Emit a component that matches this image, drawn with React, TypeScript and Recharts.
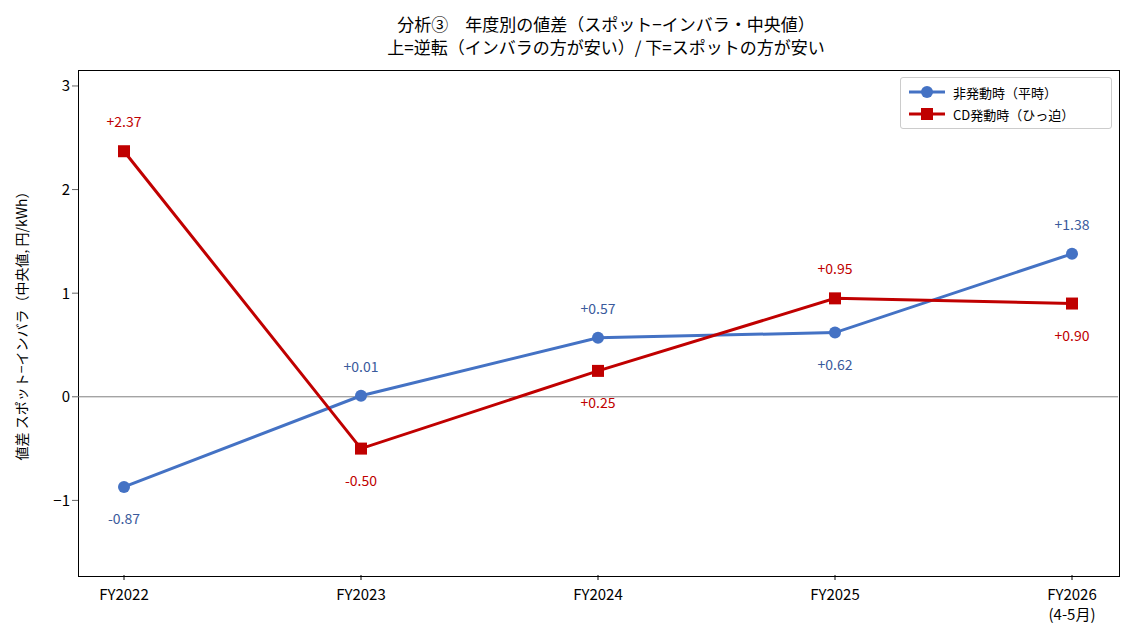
import React from "react";
import { LineChart, Line, XAxis, YAxis, ReferenceLine } from "recharts";

const categories = ["FY2022", "FY2023", "FY2024", "FY2025", "FY2026\n(4-5月)"];
const normalValues = [-0.87, 0.01, 0.57, 0.62, 1.38];
const cdValues = [2.37, -0.5, 0.25, 0.95, 0.9];
const normalLabelAbove = [false, true, true, false, true];
const cdLabelAbove = [true, false, false, true, false];
const yTicks = [-1, 0, 1, 2, 3];

const data = categories.map((c, i) => ({ cat: c, normal: normalValues[i], cd: cdValues[i] }));
const FONT = "'Noto Sans CJK JP', 'DejaVu Sans', sans-serif";
const BLUE = "#4472c4";
const RED = "#c00000";

const fmt = (v: number) => (v > 0 ? "+" : "") + v.toFixed(2);

const mkLabel = (above: boolean[], color: string) => (p: any) => {
  const { x, y, value, index } = p;
  const up = above[index];
  return (
    <text x={x} y={up ? y - 24 : y + 37} textAnchor="middle" fill={color} fontSize={14} fontFamily={FONT}>
      {fmt(value)}
    </text>
  );
};

const XTick = (p: any) => {
  const lines = String(p.payload.value).split("\n");
  return (
    <g>
      <line x1={p.x} x2={p.x} y1={p.y - 8} y2={p.y - 3} stroke="#000" />
      <text x={p.x} y={p.y + 17} textAnchor="middle" fontSize={15} fontFamily={FONT} fill="#000">
        {lines.map((l, i) => (
          <tspan key={i} x={p.x} dy={i === 0 ? 0 : 20}>{l}</tspan>
        ))}
      </text>
    </g>
  );
};

const Square = (p: any) => (
  <rect x={p.cx - 6} y={p.cy - 6} width={12} height={12} fill={RED} />
);

export default function App() {
  return (
    <div style={{ position: "relative", width: 1120, height: 631, fontFamily: FONT }}>
      <div style={{ position: "absolute", left: 0, top: 4, width: 1196, textAlign: "center", fontSize: 17, lineHeight: "23px", color: "#000" }}>
        分析③　年度別の値差（スポット−インバラ・中央値）<br />上=逆転（インバラの方が安い）/ 下=スポットの方が安い
      </div>
      <div style={{ position: "absolute", left: 70, top: 62, width: 1040, height: 505, border: "1px solid #000", pointerEvents: "none" }} />
      <div style={{ position: "absolute", left: 70 + 1040 - 218, top: 69, width: 212, border: "1px solid #ccc", borderRadius: 3, background: "#fff", fontSize: 13, padding: "3px 6px", boxSizing: "border-box", zIndex: 2 }}>
        <div style={{ display: "flex", alignItems: "center", height: 22 }}>
          <svg width={40} height={14}><line x1={2} x2={38} y1={7} y2={7} stroke={BLUE} strokeWidth={3} /><circle cx={20} cy={7} r={6} fill={BLUE} /></svg>
          <span style={{ marginLeft: 6 }}>非発動時（平時）</span>
        </div>
        <div style={{ display: "flex", alignItems: "center", height: 22 }}>
          <svg width={40} height={14}><line x1={2} x2={38} y1={7} y2={7} stroke={RED} strokeWidth={3} /><rect x={14} y={1} width={12} height={12} fill={RED} /></svg>
          <span style={{ marginLeft: 6 }}>CD発動時（ひっ迫）</span>
        </div>
      </div>
      <LineChart width={1120} height={631} data={data} margin={{ top: 62, right: 10, bottom: 34, left: 30 }}>
        <XAxis dataKey="cat" padding={{ left: 46, right: 46 }} tick={<XTick />} tickLine={false} axisLine={false} height={30} interval={0} />
        <YAxis
          domain={[-1.72, 3.154]}
          ticks={yTicks}
          allowDataOverflow
          width={40}
          axisLine={false}
          tick={{ fontSize: 15, fill: "#000", fontFamily: FONT }}
          tickFormatter={(v: number) => (v < 0 ? "−" + Math.abs(v) : String(v))}
          label={{ value: "値差 スポット−インバラ（中央値, 円/kWh）", angle: -90, position: "insideLeft", offset: -16, style: { textAnchor: "middle", fontSize: 14, fill: "#000", fontFamily: FONT } }}
        />
        <ReferenceLine y={0} stroke="#808080" strokeWidth={1} />
        <Line dataKey="normal" stroke={BLUE} strokeWidth={3} isAnimationActive={false} dot={{ r: 6, fill: BLUE, stroke: BLUE, strokeWidth: 0 }} label={mkLabel(normalLabelAbove, "#3a5a9c")} />
        <Line dataKey="cd" stroke={RED} strokeWidth={3} isAnimationActive={false} dot={<Square />} label={mkLabel(cdLabelAbove, RED)} />
      </LineChart>
    </div>
  );
}
